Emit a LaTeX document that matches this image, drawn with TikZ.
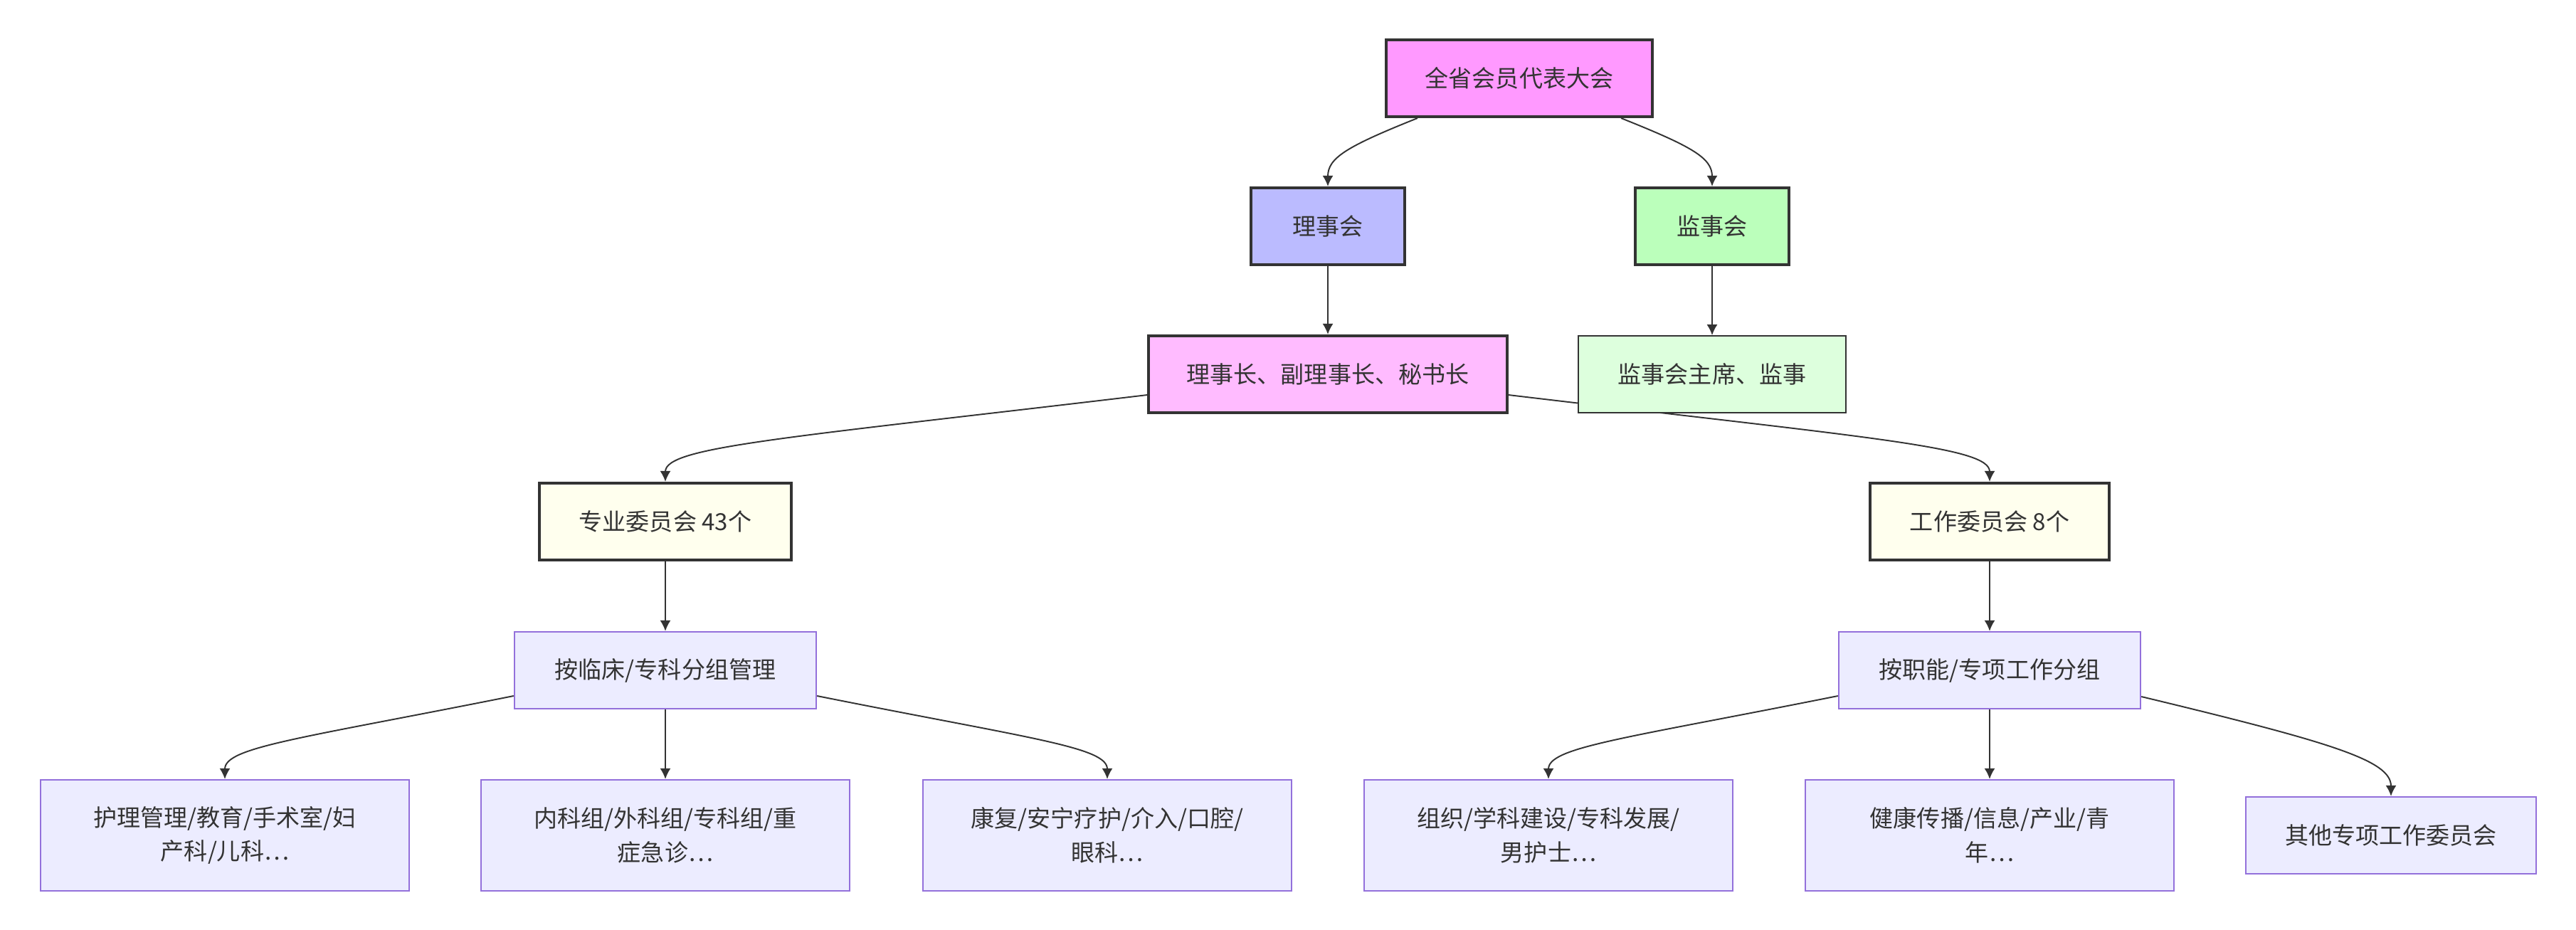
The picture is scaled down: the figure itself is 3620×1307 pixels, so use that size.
\documentclass[tikz,border=0pt]{standalone}
\usepackage{fontspec}
\usepackage{xcolor}
\usepackage{tikz}
\usetikzlibrary{arrows.meta, positioning, calc, backgrounds}
\newfontfamily\cjk{Noto Sans CJK SC}
\definecolor{inkgray}{HTML}{333333}
\definecolor{congresspink}{HTML}{FF99FF}
\definecolor{councilblue}{HTML}{BBBBFF}
\definecolor{supervgreen}{HTML}{BBFFBB}
\definecolor{leaderpink}{HTML}{FFBBFF}
\definecolor{supervlight}{HTML}{DDFFDD}
\definecolor{committeeyellow}{HTML}{FFFFEE}
\definecolor{groupfill}{HTML}{ECECFF}
\definecolor{groupline}{HTML}{9370DB}

\begin{document}
\begin{tikzpicture}[
    x=0.01cm, y=-0.01cm,
    font=\cjk\fontsize{9.4pt}{13.5pt}\selectfont,
    text=inkgray,
    orgbox/.style={rectangle, draw=inkgray, line width=1.15pt, minimum height=1.08cm, inner sep=0pt, align=center},
    infobox/.style={rectangle, draw=inkgray, line width=0.45pt, fill=supervlight, minimum height=1.08cm, inner sep=0pt},
    groupbox/.style={rectangle, draw=groupline, line width=0.6pt, fill=groupfill, minimum width=4.24cm, minimum height=1.08cm, inner sep=0pt, align=center},
    leafbox/.style={groupbox, minimum width=5.18cm, minimum height=1.56cm},
    arrow/.style={-{Latex[length=1.5mm, width=1.5mm]}, line width=0.55pt, inkgray}
]

\node[orgbox, fill=congresspink, minimum width=3.74cm] (congress) at (2135, 110) {全省会员代表大会};
\node[orgbox, fill=councilblue, minimum width=2.15cm] (council) at (1866, 318) {理事会};
\node[orgbox, fill=supervgreen, minimum width=2.15cm] (supervisors) at (2406, 318) {监事会};
\node[orgbox, fill=leaderpink, minimum width=5.03cm] (leaders) at (1866, 526) {理事长、副理事长、秘书长};
\node[infobox, minimum width=3.76cm] (supboard) at (2406, 526) {监事会主席、监事};
\node[orgbox, fill=committeeyellow, minimum width=3.53cm] (profcom) at (935, 733) {专业委员会 43个};
\node[orgbox, fill=committeeyellow, minimum width=3.36cm] (workcom) at (2796, 733) {工作委员会 8个};
\node[groupbox] (clingroup) at (935, 942) {按临床/专科分组管理};
\node[groupbox] (funcgroup) at (2796, 942) {按职能/专项工作分组};

\node[leafbox] (cg1) at (316, 1174) {护理管理/教育/手术室/妇\\产科/儿科…};
\node[leafbox] (cg2) at (935, 1174) {内科组/外科组/专科组/重\\症急诊…};
\node[leafbox] (cg3) at (1556, 1174) {康复/安宁疗护/介入/口腔/\\眼科…};
\node[leafbox] (fg1) at (2176, 1174) {组织/学科建设/专科发展/\\男护士…};
\node[leafbox] (fg2) at (2796, 1174) {健康传播/信息/产业/青\\年…};
\node[groupbox, minimum width=4.07cm] (fg3) at (3360, 1174) {其他专项工作委员会};

\begin{scope}[on background layer]
\fill[white] (0, 0) rectangle (3620, 1307);
\foreach \a/\b in {council/leaders, supervisors/supboard, profcom/clingroup, workcom/funcgroup, clingroup/cg2, funcgroup/fg2} {
    \draw[arrow] (\a.south) -- (\b.north);
}
\draw[arrow] ([xshift=-1.43cm]congress.south) .. controls +(-100, 40) and +(0, -40) .. (council.north);
\draw[arrow] ([xshift=1.43cm]congress.south) .. controls +(100, 40) and +(0, -40) .. (supervisors.north);
\draw[arrow] ([yshift=-0.29cm]leaders.west) .. controls +(-513, 61) and +(0, -49) .. (profcom.north);
\draw[arrow] ([yshift=-0.29cm]leaders.east) .. controls +(513, 61) and +(0, -49) .. (workcom.north);
\draw[arrow] ([yshift=-0.36cm]clingroup.west) .. controls +(-300, 60) and +(0, -45) .. (cg1.north);
\draw[arrow] ([yshift=-0.36cm]clingroup.east) .. controls +(300, 60) and +(0, -45) .. (cg3.north);
\draw[arrow] ([yshift=-0.36cm]funcgroup.west) .. controls +(-300, 60) and +(0, -45) .. (fg1.north);
\draw[arrow] ([yshift=-0.37cm]funcgroup.east) .. controls +(270, 65) and +(0, -50) .. (fg3.north);
\end{scope}
\end{tikzpicture}
\end{document}
